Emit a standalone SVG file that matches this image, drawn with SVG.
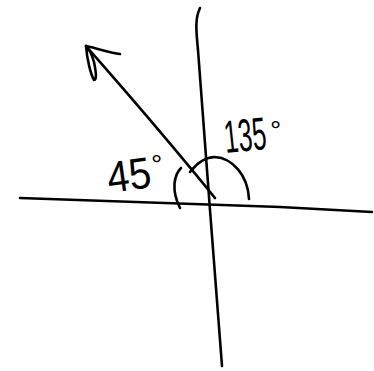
<svg xmlns="http://www.w3.org/2000/svg" width="374" height="371" viewBox="0 0 374 371">
<style>
.s{fill:none;stroke:#000;stroke-width:2.6;stroke-linecap:round;stroke-linejoin:round}
.t{font-family:"Liberation Sans",Arial,sans-serif;fill:#000}
</style>
<rect width="374" height="371" fill="#fff"/>
<g id="connectors">
<path class="s" d="M200,8 C195,18 196,30 198,50 C202,100 206,160 210,210 C214,260 218,310 222,366"/>
<path class="s" d="M20,198 C100,201 200,204 280,207 C320,209 350,211 372,212"/>
<path class="s" d="M86,46 C120,85 160,130 215,198"/>
<path class="s" d="M86,46 C100,49 110,53 120,54"/>
<path class="s" d="M86,46 C87,60 91,75 94,80 C97,80 96,72 94,62 C92,55 90,50 87,48"/>
<path class="s" d="M181,168 C174,175 171,190 180,208"/>
<path class="s" d="M190,172 C197,163 205,157 215,157 C232,158 248,175 249,199"/>
</g>
<g id="label45">
<text class="t" x="107" y="190" font-size="44" textLength="44" lengthAdjust="spacingAndGlyphs" transform="rotate(-8 130 175)">45</text>
<text class="t" x="151" y="174" font-size="28">°</text>
</g>
<g id="label135">
<text class="t" x="224" y="151" font-size="46" textLength="42" lengthAdjust="spacingAndGlyphs" transform="rotate(-6 245 135)">135</text>
<text class="t" x="270" y="140" font-size="28">°</text>
</g>
</svg>
